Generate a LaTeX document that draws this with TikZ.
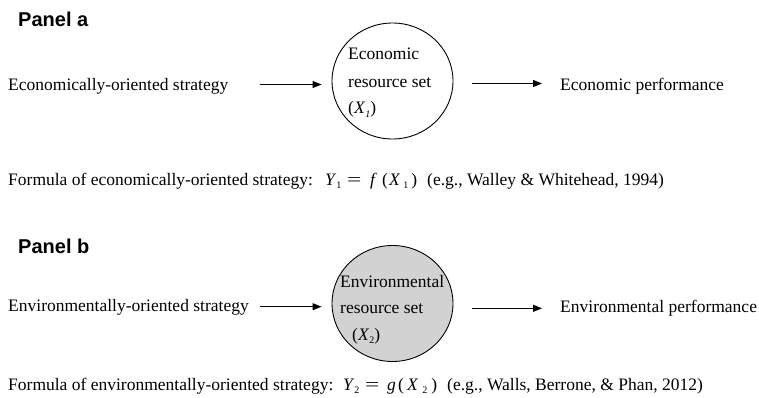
\documentclass[tikz,border=0pt]{standalone}
\usepackage{fontspec}
\setmainfont{Liberation Serif}
\newfontfamily\panelfont{Liberation Sans}
\usetikzlibrary{shapes.geometric,arrows.meta}
\newcommand\lowsub[1]{\raisebox{-0.4ex}{\fontsize{10}{10}\selectfont #1}}
\newcommand\bigeq{\scalebox{1.45}[1]{=}}
\begin{document}
\begin{tikzpicture}[x=1pt,y=-1pt,
  every node/.style={inner sep=0pt, font=\fontsize{17.5}{21}\selectfont},
  txt/.style={anchor=base west},
  panel/.style={anchor=base west, font=\panelfont\bfseries\fontsize{20}{22}\selectfont},
  res/.style={ellipse, draw, line width=0.9pt, minimum width=121pt, minimum height=116pt},
  arr/.style={-{Triangle[length=9pt,width=7pt]}, line width=0.9pt}]
\useasboundingbox (0,0) rectangle (759,398);
% Panel a
\node[panel] (pa) at (18,26.7) {Panel a};
\node[txt] (sa) at (8,90.5) {Economically-oriented strategy};
\node[res] (ca) at (392.5,81) {};
\node[txt] (ca1) at (348,60) {Economic};
\node[txt] (ca2) at (348,87.3) {resource set};
\node[txt] (ca3) at (348,114) {(\textit{X}\lowsub{\textit{1}})};
\node[txt] (pfa) at (560,90.3) {Economic performance};
\coordinate (a1) at (260,84.5);
\coordinate (a2) at (472,83.5);
\draw[arr] (a1) -- (a1 -| ca.west) [shorten >=10pt];
\draw[arr] (a2) -- ([xshift=-18pt]a2 -| pfa.west);
\node[txt] (fa1) at (8,185.5) {Formula of economically-oriented strategy:};
\node[txt] (fa2) at (325,185.5) {\makebox[22pt][l]{\textit{Y}\lowsub{1}}\makebox[23pt][l]{\bigeq}\makebox[12pt][l]{\textit{f}}(\hspace{1pt}\textit{X}\hspace{3pt}\lowsub{1}\hspace{3pt})};
\node[txt] (fa3) at (427,185.5) {(e.g., Walley \& Whitehead, 1994)};
% Panel b
\node[panel] (pb) at (18,253.3) {Panel b};
\node[txt] (sb) at (8,311.7) {Environmentally-oriented strategy};
\node[res, fill=gray!35] (cb) at (392.5,303.5) {};
\node[txt] (cb1) at (340,287) {Environmental};
\node[txt] (cb2) at (340,313) {resource set};
\node[txt] (cb3) at (352,340) {(\textit{X}\lowsub{2})};
\node[txt] (pfb) at (560,312.7) {Environmental performance};
\coordinate (b1) at (260,306.7);
\coordinate (b2) at (472,308.3);
\draw[arr] (b1) -- (b1 -| cb.west) [shorten >=10pt];
\draw[arr] (b2) -- ([xshift=-18pt]b2 -| pfb.west);
\node[txt] (fb1) at (8,390.5) {Formula of environmentally-oriented strategy:};
\node[txt] (fb2) at (343,390.5) {\makebox[22pt][l]{\textit{Y}\lowsub{2}}\makebox[22pt][l]{\bigeq}\makebox[11pt][l]{\textit{g}}(\hspace{3pt}\textit{X}\hspace{4pt}\lowsub{2}\hspace{4pt})};
\node[txt] (fb3) at (447,390.5) {(e.g., Walls, Berrone, \& Phan, 2012)};
\end{tikzpicture}
\end{document}
